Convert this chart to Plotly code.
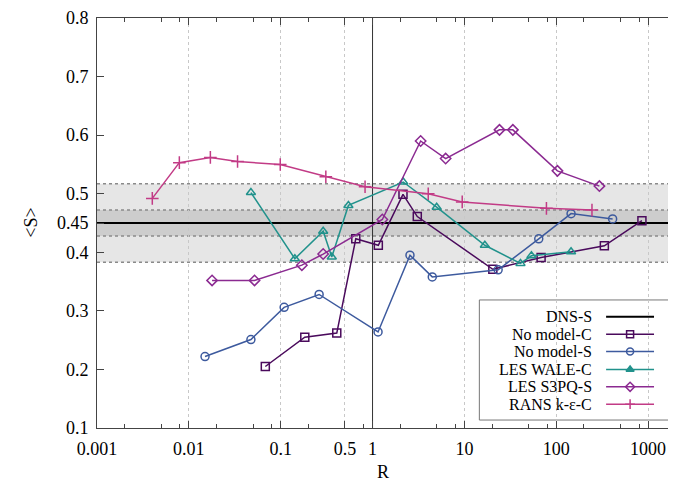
import plotly.graph_objects as go

# ---------------- data ----------------
dns_value = 0.45
band_outer = [0.383, 0.517]
band_inner = [0.428, 0.472]

nomodel_c_R = [0.068, 0.183, 0.408, 0.657, 1.156, 2.145, 3.07, 20.4, 68.4, 334, 857]
nomodel_c_S = [0.205, 0.255, 0.262, 0.423, 0.412, 0.499, 0.461, 0.371, 0.391, 0.411, 0.454]

nomodel_s_R = [0.015, 0.0474, 0.109, 0.262, 1.148, 2.556, 4.47, 23.3, 64.5, 145, 411]
nomodel_s_S = [0.222, 0.251, 0.306, 0.328, 0.264, 0.395, 0.358, 0.370, 0.423, 0.466, 0.457]

wale_c_R = [0.0474, 0.1426, 0.29, 0.36, 0.546, 2.16, 4.99, 16.7, 40.8, 53.7, 145]
wale_c_S = [0.502, 0.389, 0.436, 0.392, 0.480, 0.520, 0.477, 0.412, 0.381, 0.394, 0.401]

s3pq_s_R = [0.0179, 0.0519, 0.17, 0.29, 1.278, 3.34, 6.25, 24.1, 33.7, 103, 295]
s3pq_s_S = [0.352, 0.352, 0.378, 0.397, 0.456, 0.590, 0.560, 0.609, 0.609, 0.539, 0.513]

rans_c_R = [0.0040, 0.00788, 0.01715, 0.0339, 0.0989, 0.31, 0.829, 4.04, 9.47, 78.2, 245]
rans_c_S = [0.492, 0.553, 0.562, 0.555, 0.550, 0.529, 0.512, 0.500, 0.486, 0.475, 0.472]

x_tickvals = [0.001, 0.01, 0.1, 0.5, 1, 10, 100, 1000]
x_ticktext = ["0.001", "0.01", "0.1", "0.5", "1", "10", "100", "1000"]
y_tickvals = [0.1, 0.2, 0.3, 0.4, 0.45, 0.5, 0.6, 0.7, 0.8]
y_ticktext = ["0.1", "0.2", "0.3", "0.4", "0.45", "0.5", "0.6", "0.7", "0.8"]

series = [
    ("No model-C", nomodel_c_R, nomodel_c_S, "#4a0a5c", "square-open"),
    ("No model-S", nomodel_s_R, nomodel_s_S, "#3d5a9e", "circle-open"),
    ("LES WALE-C", wale_c_R, wale_c_S, "#21928c", "triangle-up-open"),
    ("LES S3PQ-S", s3pq_s_R, s3pq_s_S, "#8b2a91", "diamond-open"),
    ("RANS k-\u03b5-C", rans_c_R, rans_c_S, "#c23b86", "cross-thin-open"),
]
sizes = {"square-open": 8, "circle-open": 8, "triangle-up-open": 8,
         "diamond-open": 8, "cross-thin-open": 9}
legend_symbols = {"square-open": "square-open", "circle-open": "circle-open",
                  "triangle-up-open": "triangle-up", "diamond-open": "diamond-open",
                  "cross-thin-open": "cross-thin-open"}

FONT = "Liberation Serif"

minor_vals = []
for d in [0.001, 0.01, 0.1, 1, 10, 100, 1000]:
    for m in (2, 5, 8):
        v = d * m
        if abs(v - 0.5) > 1e-9 and v < 1900:
            minor_vals.append(v)

fig = go.Figure()

# vertical reference line at R = 1
fig.add_trace(go.Scatter(x=[1, 1], y=[0.1, 0.8], mode="lines",
                         line=dict(color="#333333", width=1), showlegend=False,
                         hoverinfo="skip"))
# DNS reference line
fig.add_trace(go.Scatter(x=[0.001, 2000], y=[dns_value, dns_value], mode="lines",
                         line=dict(color="black", width=2), showlegend=False,
                         hoverinfo="skip"))

for name, xs, ys, col, sym in series:
    fig.add_trace(go.Scatter(
        x=xs, y=ys, mode="lines+markers", name=name, showlegend=False,
        line=dict(color=col, width=1.5),
        marker=dict(symbol=sym, size=sizes[sym], color=col, line=dict(color=col, width=1.5)),
    ))

# ---------------- custom legend (on overlay axes in paper units) ----------------
leg_rows = [0.2712, 0.2288, 0.1864, 0.1429, 0.1005, 0.0581]
leg_entries = [("DNS-S", "black", None, 2)] + [(n, c, s, 1.5) for n, _, _, c, s in series]
lx0, lx1, lxm = 0.8808, 0.9637, 0.9223
for (name, col, sym, w), yy in zip(leg_entries, leg_rows):
    fig.add_trace(go.Scatter(x=[lx0, lx1], y=[yy, yy], mode="lines", xaxis="x2", yaxis="y2",
                             line=dict(color=col, width=w), showlegend=False, hoverinfo="skip"))
    if sym:
        fig.add_trace(go.Scatter(x=[lxm], y=[yy], mode="markers", xaxis="x2", yaxis="y2",
                                 marker=dict(symbol=legend_symbols[sym], size=7, color=col,
                                             line=dict(color=col, width=1.5)),
                                 showlegend=False, hoverinfo="skip"))
    fig.add_annotation(x=0.8601, y=yy, xref="paper", yref="paper", text=name,
                       showarrow=False, xanchor="right", yanchor="middle",
                       font=dict(family=FONT, size=16, color="black"))

shapes = [
    dict(type="rect", xref="paper", yref="y", x0=0, x1=1, y0=band_outer[0], y1=band_outer[1],
         fillcolor="#e6e6e6", line=dict(width=0), layer="below"),
    dict(type="rect", xref="paper", yref="y", x0=0, x1=1, y0=band_inner[0], y1=band_inner[1],
         fillcolor="#cdcdcd", line=dict(width=0), layer="below"),
]
for yv in band_outer + band_inner:
    shapes.append(dict(type="line", xref="paper", yref="y", x0=0, x1=1, y0=yv, y1=yv,
                       line=dict(color="#8a8a8a", width=1.5, dash="dot"), layer="between"))
# legend box
shapes.append(dict(type="rect", xref="paper", yref="paper", x0=0.6615, x1=0.991, y0=0.0194, y1=0.3123,
                   fillcolor="white", line=dict(color="#777777", width=1), layer="between"))
fig.update_layout(shapes=shapes)

fig.add_annotation(x=-0.1157, y=0.501, xref="paper", yref="paper", text="&lt;S&gt;",
                   textangle=-90, showarrow=False, xanchor="center", yanchor="middle",
                   font=dict(family=FONT, size=18, color="black"))
fig.add_annotation(x=0.494, y=-0.1065, xref="paper", yref="paper", text="R",
                   showarrow=False, xanchor="center", yanchor="middle",
                   font=dict(family=FONT, size=18, color="black"))

fig.update_layout(
    width=668, height=478,
    margin=dict(l=89, r=0, t=7, b=58),
    plot_bgcolor="white", paper_bgcolor="white",
    font=dict(family=FONT, size=18, color="black"),
    xaxis=dict(type="log", range=[-3, 3.293], tickvals=x_tickvals, ticktext=x_ticktext,
               ticks="inside", ticklen=7, tickcolor="#444", showline=True, linecolor="#444",
               linewidth=1, mirror="ticks", showgrid=True, gridcolor="#c8c8c8", griddash="dot",
               gridwidth=1, zeroline=False, ticklabelstandoff=4, ticklabeloverflow="allow",
               minor=dict(tickvals=minor_vals, ticks="inside", ticklen=4, tickcolor="#444",
                          showgrid=False),
               tickfont=dict(family=FONT, size=18)),
    yaxis=dict(range=[0.1, 0.8], tickvals=y_tickvals, ticktext=y_ticktext,
               ticks="inside", ticklen=7, tickcolor="#444", showline=True, linecolor="#444",
               linewidth=1, mirror="ticks", showgrid=False, zeroline=False,
               ticklabeloverflow="allow", ticklabelstandoff=4,
               tickfont=dict(family=FONT, size=18)),
    xaxis2=dict(overlaying="x", range=[0, 1], visible=False, anchor="y2"),
    yaxis2=dict(overlaying="y", range=[0, 1], visible=False, anchor="x2"),
)

fig.write_html("out.html")
